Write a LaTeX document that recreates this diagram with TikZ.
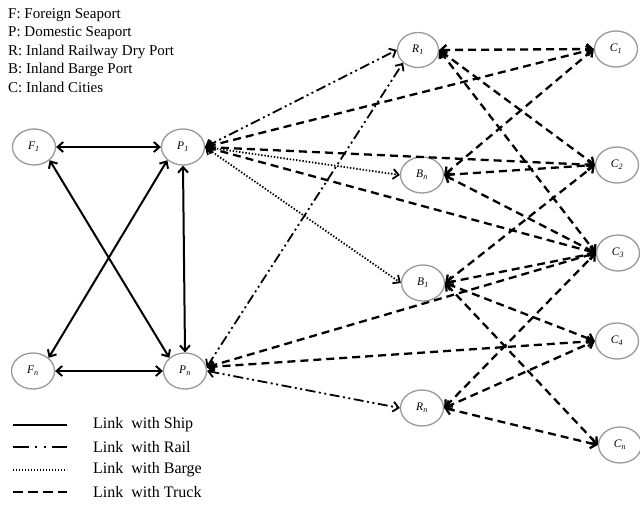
\documentclass[tikz,border=0pt]{standalone}
\usepackage{fontspec}
\setmainfont{Liberation Serif}
\usetikzlibrary{arrows.meta,shapes.geometric}
\begin{document}
\begin{tikzpicture}[x=1pt,y=-1pt,
  port/.style={draw=black!40, line width=1.3pt, ellipse, minimum width=43pt, minimum height=36pt, inner sep=0pt, font=\fontsize{11.5}{11.5}\selectfont\itshape},
  tipx/.tip={Straight Barb[length=5.5pt,width=10pt]},
  ship/.style={line width=2pt, tipx-tipx},
  rail/.style={line width=1.8pt, dash pattern=on 10pt off 3.5pt on 2pt off 3.5pt on 2pt off 3.5pt, tipx-tipx},
  barge/.style={line width=1.8pt, dash pattern=on 1.4pt off 1.8pt, tipx-tipx},
  truck/.style={line width=2.3pt, dash pattern=on 8pt off 5pt, tipx-tipx},
  keytext/.style={anchor=west, inner sep=0pt, font=\fontsize{15}{15}\selectfont},
  legtext/.style={anchor=west, inner sep=0pt, font=\fontsize{16}{16}\selectfont}
]
\useasboundingbox (0,0) rectangle (640,504);
% key
\node[keytext] (k1) at (8,15) {F: Foreign Seaport};
\node[keytext] (k2) at (8,33) {P: Domestic Seaport};
\node[keytext] (k3) at (8,52) {R: Inland Railway Dry Port};
\node[keytext] (k4) at (8,70) {B: Inland Barge Port};
\node[keytext] (k5) at (8,87) {C: Inland Cities};
% nodes
\node[port] (F1) at (34,147) {F\textsubscript{1}};
\node[port] (P1) at (183,147) {P\textsubscript{1}};
\node[port] (Fn) at (33,371) {F\textsubscript{n}};
\node[port] (Pn) at (185,371) {P\textsubscript{n}};
\node[port, minimum width=41pt, minimum height=35pt] (R1) at (418,50) {R\textsubscript{1}};
\node[port] (Bn) at (422,175) {B\textsubscript{n}};
\node[port] (B1) at (423,283) {B\textsubscript{1}};
\node[port] (Rn) at (422,408) {R\textsubscript{n}};
\node[port] (C1) at (616,49) {C\textsubscript{1}};
\node[port] (C2) at (617,165) {C\textsubscript{2}};
\node[port] (C3) at (618,253) {C\textsubscript{3}};
\node[port] (C4) at (617,341) {C\textsubscript{4}};
\node[port] (Cn) at (620,445) {C\textsubscript{n}};
% ship
\draw[ship] (F1.east) -- (P1.west);
\draw[ship] (Fn.east) -- (Pn.west);
\draw[ship] (P1.south) -- (Pn.north);
\draw[ship] (F1.south east) -- (Pn.north west);
\draw[ship] (Fn.north east) -- (P1.south west);
% rail
\draw[rail] (P1.east) -- (R1.west);
\draw[rail] (Pn.10) -- (R1.south west);
\draw[rail] (Pn.east) -- (Rn.west);
% barge
\draw[barge] (P1.east) -- (Bn.west);
\draw[barge] (P1.east) -- (B1.west);
% truck
\draw[truck] (P1.east) -- (C1.west);
\draw[truck] (P1.east) -- (C2.west);
\draw[truck] (P1.east) -- (C3.west);
\draw[truck] (R1.east) -- (C1.west);
\draw[truck] (R1.east) -- (C2.west);
\draw[truck] (R1.east) -- (C3.west);
\draw[truck] (Bn.east) -- (C1.west);
\draw[truck] (Bn.east) -- (C2.west);
\draw[truck] (Bn.east) -- (C3.west);
\draw[truck] (B1.east) -- (C2.west);
\draw[truck] (B1.east) -- (C3.west);
\draw[truck] (B1.east) -- (C4.west);
\draw[truck] (B1.east) -- (Cn.west);
\draw[truck] (Pn.10) -- (C3.west);
\draw[truck] (Pn.10) -- (C4.west);
\draw[truck] (Rn.east) -- (C3.west);
\draw[truck] (Rn.east) -- (C4.west);
\draw[truck] (Rn.east) -- (Cn.west);
% legend
\coordinate (l1a) at (13,425); \coordinate (l1b) at (67,425);
\coordinate (l2a) at (13,447); \coordinate (l2b) at (67,447);
\coordinate (l3a) at (13,470); \coordinate (l3b) at (67,470);
\coordinate (l4a) at (13,492); \coordinate (l4b) at (67,492);
\draw[line width=2pt] (l1a) -- (l1b);
\draw[line width=2pt, dash pattern=on 16pt off 6pt on 2pt off 7pt on 2pt off 6pt] (l2a) -- (l2b);
\draw[line width=1.6pt, dash pattern=on 1.3pt off 1.7pt] (l3a) -- (l3b);
\draw[line width=2.3pt, dash pattern=on 10pt off 5pt] (l4a) -- (l4b);
\node[legtext] (t1) at (93,425) {Link\ \ with\ Ship};
\node[legtext] (t2) at (93,447) {Link\ \ with\ Rail};
\node[legtext] (t3) at (93,470) {Link\ \ with\ Barge};
\node[legtext] (t4) at (93,492) {Link\ \ with\ Truck};
\end{tikzpicture}
\end{document}
